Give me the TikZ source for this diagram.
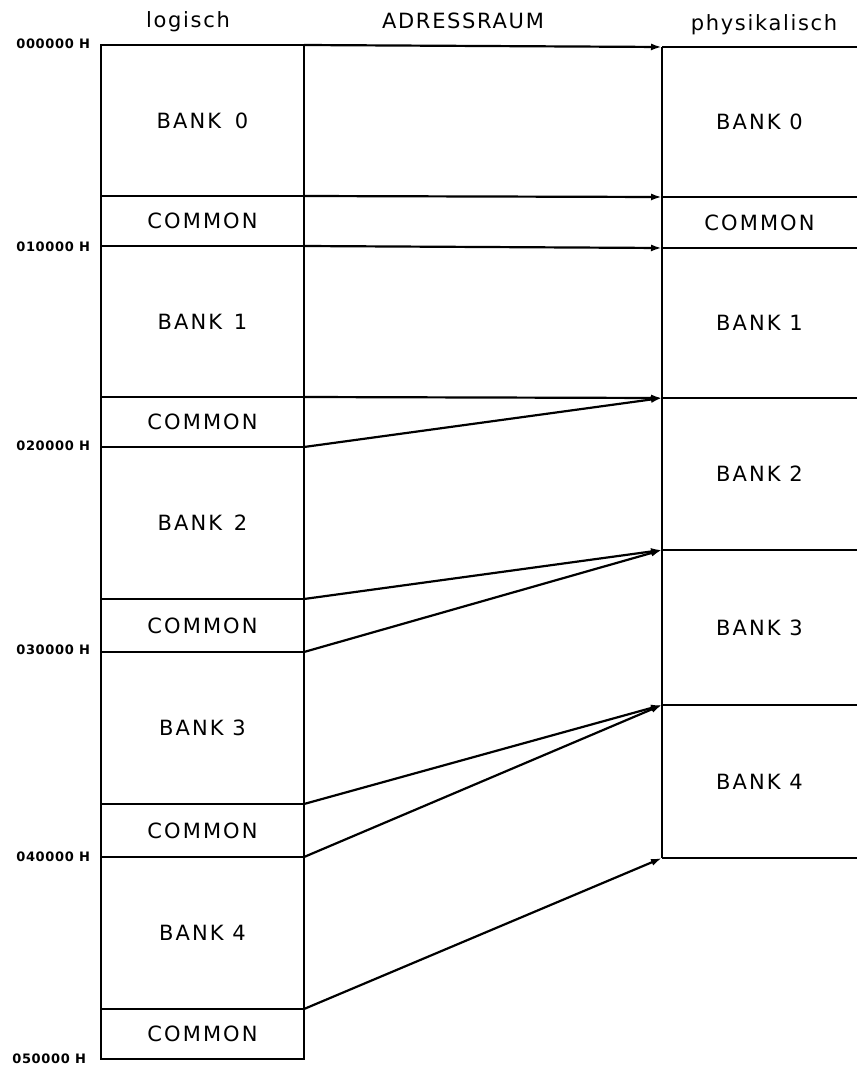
\documentclass[tikz,border=0pt]{standalone}
\usepackage{fontspec}
\setmainfont{DejaVu Sans}
\newfontfamily\blockfont[LetterSpace=10]{DejaVu Sans}
\newfontfamily\headfont[LetterSpace=8]{DejaVu Sans}
\newfontfamily\addrfont[LetterSpace=5]{DejaVu Sans}
\usetikzlibrary{arrows.meta}

\begin{document}
\begin{tikzpicture}[x=1pt, y=-1pt, line width=2.2pt,
  lblock/.style={draw, rectangle, anchor=north west, inner sep=0pt, outer sep=0pt,
    minimum width=203pt, font=\blockfont\fontsize{21}{21}\selectfont},
  pblock/.style={rectangle, anchor=north west, inner sep=0pt, outer sep=0pt,
    minimum width=195pt, text depth=-6pt, font=\blockfont\fontsize{21}{21}\selectfont},
  head/.style={inner sep=0pt, font=\headfont\fontsize{21}{21}\selectfont},
  addr/.style={anchor=east, inner sep=0pt, font=\addrfont\bfseries\fontsize{13}{13}\selectfont},
  map/.style={-{Latex[length=11pt,width=7pt]}}]

\useasboundingbox (0,0) rectangle (857,1068);

% column headings
\node[head] (hlog) at (188,22) {logisch};
\node[head] (hadr) at (463,21) {ADRESSRAUM};
\node[head] (hphy) at (764,25) {physikalisch};

% logical address space (left column)
\node[lblock, minimum height=151pt] (L0)  at (101,45)  {BANK\hspace{5pt} 0};
\node[lblock, minimum height=50pt]  (LC0) at (101,196) {COMMON};
\node[lblock, minimum height=151pt] (L1)  at (101,246) {BANK\hspace{3pt} 1};
\node[lblock, minimum height=50pt]  (LC1) at (101,397) {COMMON};
\node[lblock, minimum height=152pt] (L2)  at (101,447) {BANK\hspace{3pt} 2};
\node[lblock, minimum height=53pt]  (LC2) at (101,599) {COMMON};
\node[lblock, minimum height=152pt] (L3)  at (101,652) {BANK 3};
\node[lblock, minimum height=53pt]  (LC3) at (101,804) {COMMON};
\node[lblock, minimum height=152pt] (L4)  at (101,857) {BANK 4};
\node[lblock, minimum height=50pt]  (LC4) at (101,1009) {COMMON};

% addresses
\node[addr] (a0) at (91,44)   {000000 H};
\node[addr] (a1) at (91,247)  {010000 H};
\node[addr] (a2) at (91,446)  {020000 H};
\node[addr] (a3) at (91,650)  {030000 H};
\node[addr] (a4) at (91,857)  {040000 H};
\node[addr] (a5) at (87,1059) {050000 H};

% physical memory (right column)
\node[pblock, minimum height=150pt] (P0) at (662,47)  {BANK 0};
\node[pblock, minimum height=51pt]  (PC) at (662,197) {COMMON};
\node[pblock, minimum height=150pt] (P1) at (662,248) {BANK 1};
\node[pblock, minimum height=152pt] (P2) at (662,398) {BANK 2};
\node[pblock, minimum height=155pt] (P3) at (662,550) {BANK 3};
\node[pblock, minimum height=153pt] (P4) at (662,705) {BANK 4};

\draw (P0.north west) -- (P4.south west);
\foreach \p in {P0,PC,P1,P2,P3,P4}
  \draw (\p.north west) -- (\p.north east);
\draw (P4.south west) -- (P4.south east);

% address mapping
\draw[map] (L0.north east)  -- (P0.north west);
\draw[map] (L0.south east)  -- (PC.north west);
\draw[map] (LC0.south east) -- (P1.north west);
\draw[map] (L1.south east)  -- (P2.north west);
\draw[map] (LC1.south east) -- (P2.north west);
\draw[map] (L2.south east)  -- (P3.north west);
\draw[map] (LC2.south east) -- (P3.north west);
\draw[map] (L3.south east)  -- (P4.north west);
\draw[map] (LC3.south east) -- (P4.north west);
\draw[map] (L4.south east)  -- (P4.south west);
\end{tikzpicture}
\end{document}
